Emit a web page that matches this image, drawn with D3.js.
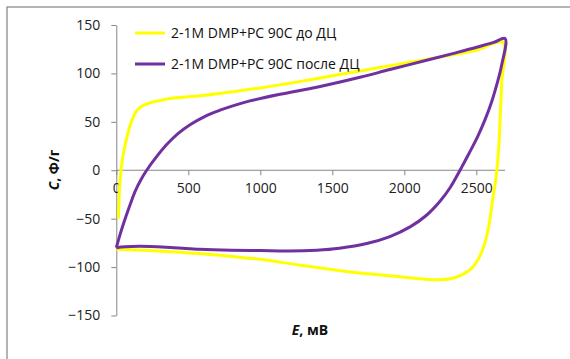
<!DOCTYPE html>
<html><head><meta charset="utf-8">
<script src="https://cdn.jsdelivr.net/npm/d3@7"></script>
<style>body{margin:0;background:#fff}svg{display:block}</style>
</head><body>
<script>
// Data
const seriesNames = ["2-1M DMP+PC 90C до ДЦ", "2-1M DMP+PC 90C после ДЦ"];
const seriesColors = ["#FFFF00", "#7030A0"];
const yellowE = [15,22,33,50,72,95,118,150,188,240,303,400,581,800,1000,1250,1500,1750,2000,2250,2500,2685,
  2676,2665,2652,2635,2614,2590,2560,2520,2470,2400,2320,2248,2150,1970,1623,1276,1000,800,581,300,100,0];
const yellowC = [-50,-20,0,18,33,46,55,63,67,70,72,74.5,77,81,85,91,97.5,104,110.5,117,124,132,
  90,50,15,-10,-30,-55,-75,-90,-101,-108,-112,-113,-112.5,-110,-105,-98,-92,-89,-86,-83.5,-82,-81.5];
const purpleE = [0,25,55,90,130,170,211,280,350,430,512,620,720,820,928,1137,1400,1692,1900,2155,2350,2503,2620,2700,
  2675,2645,2605,2560,2510,2450,2387,2320,2248,2150,2040,1900,1739,1550,1392,1200,1000,800,581,400,165,60,0];
const purpleC = [-80,-67,-53,-38,-22,-10,0,14,26.5,38,47,56,62,67,71.6,78.5,86,96,104,113.6,121,127,132,136,
  108,90,70,52,35,17.5,0,-17.5,-32,-47,-58.5,-68.5,-75.7,-80.5,-82.6,-83.5,-83,-82.5,-81.5,-80,-78.5,-79,-80];
const xTicks = [0,500,1000,1500,2000,2500];
const yTicks = [-150,-100,-50,0,50,100,150];

const W = 570, H = 359;
const svg = d3.select("body").append("svg").attr("width", W).attr("height", H);
const font = "'Open Sans', 'Noto Sans', sans-serif";

// outer frame
svg.append("rect").attr("x", 7).attr("y", 7).attr("width", 600).attr("height", 400)
  .attr("fill", "none").attr("stroke", "#8c8c8c").attr("stroke-width", 1.3);

const x = d3.scaleLinear().domain([0, 2700]).range([116.3, 505.1]);
const y = d3.scaleLinear().domain([-150, 150]).range([315.5, 25]);

// y axis
const yAxis = svg.append("g").attr("transform", `translate(${x(0)},0)`)
  .call(d3.axisLeft(y).tickValues(yTicks).tickFormat(d3.format("d")).tickSize(5).tickPadding(11).tickSizeOuter(0));
// x axis at y=0
const xAxis = svg.append("g").attr("transform", `translate(0,${y(0)})`)
  .call(d3.axisBottom(x).tickValues(xTicks).tickFormat(d3.format("d")).tickSize(5).tickPadding(8).tickSizeOuter(0));
[yAxis, xAxis].forEach(g => {
  g.select(".domain").attr("stroke", "#868686");
  g.selectAll(".tick line").attr("stroke", "#868686");
  g.selectAll("text").attr("fill", "#222").style("font-family", font).style("font-size", "14px");
});
// extend x domain line to 2700
xAxis.select(".domain").attr("d", `M${x(0)},0H${x(2700)}`);

const line = d3.line().x(d => x(d[0])).y(d => y(d[1])).curve(d3.curveCatmullRom.alpha(0.5));
const yPts = yellowE.map((e, i) => [e, yellowC[i]]);
const pPts = purpleE.map((e, i) => [e, purpleC[i]]);
svg.append("path").attr("d", line(yPts)).attr("fill", "none").attr("stroke", seriesColors[0]).attr("stroke-width", 3);
svg.append("path").attr("d", line(pPts)).attr("fill", "none").attr("stroke", seriesColors[1]).attr("stroke-width", 3);

// legend
seriesNames.forEach((n, i) => {
  const ly = 33 + i * 31;
  svg.append("line").attr("x1", 135).attr("x2", 165).attr("y1", ly).attr("y2", ly)
    .attr("stroke", seriesColors[i]).attr("stroke-width", 3);
  svg.append("text").attr("x", 171).attr("y", ly).attr("dy", "0.35em").text(n)
    .style("font-family", font).style("font-size", "14px").attr("fill", "#111");
});

// axis titles
const yt = svg.append("text").attr("transform", `translate(59,170) rotate(-90)`).attr("text-anchor", "middle")
  .style("font-family", font).style("font-size", "14px").style("font-weight", "bold").attr("fill", "#111");
yt.append("tspan").style("font-style", "italic").text("С");
yt.append("tspan").text(", Ф/г");
const xt = svg.append("text").attr("x", 310).attr("y", 335).attr("text-anchor", "middle")
  .style("font-family", font).style("font-size", "14px").style("font-weight", "bold").attr("fill", "#111");
xt.append("tspan").style("font-style", "italic").text("Е");
xt.append("tspan").text(", мВ");
</script>
</body></html>
